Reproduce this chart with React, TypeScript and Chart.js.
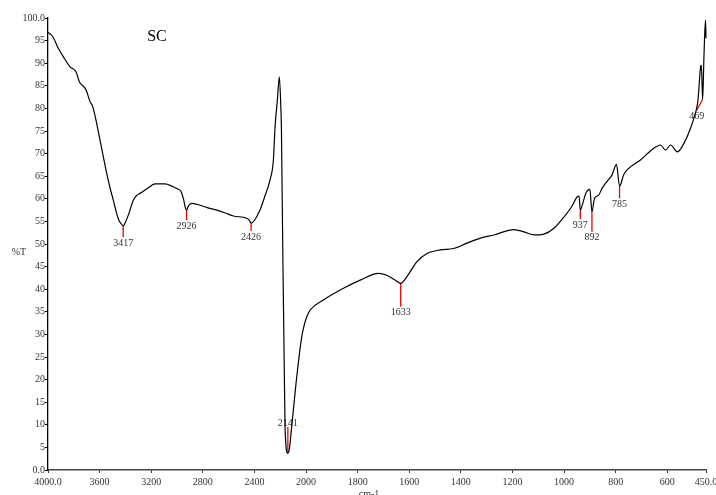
import { useEffect, useRef } from 'react';
import { Chart, registerables } from 'chart.js';

Chart.register(...registerables);

// Spectrum (wavenumber cm-1, %T)
const wavenumbers = [
  4000, 3964, 3920, 3881, 3829, 3783, 3757, 3705, 3674, 3653, 3623, 3597, 3571, 3545, 3520, 3494,
  3470, 3450, 3430, 3417, 3400, 3370, 3339, 3310, 3287, 3230, 3171, 3093, 3040, 3002, 2969, 2950,
  2935, 2926, 2910, 2886, 2847, 2760, 2692, 2620, 2563, 2460, 2440, 2426, 2400, 2357, 2320, 2279,
  2253, 2240, 2222, 2207, 2195, 2191, 2163, 2142, 2130, 2111, 2072, 2033, 2010, 1997, 1984, 1933,
  1855, 1790, 1719, 1687, 1654, 1633, 1609, 1570, 1531, 1480, 1428, 1376, 1324, 1272, 1194, 1155,
  1116, 1078, 1039, 1000, 970, 948, 942, 937, 930, 916, 900, 892, 882, 866, 853, 834, 814, 797,
  785, 769, 756, 704, 652, 626, 607, 587, 561, 529, 510, 497, 488, 481, 471, 468, 463, 458, 452, 450,
];
const transmittance = [
  96.8, 95.9, 93.3, 91.4, 89.2, 88.1, 85.9, 84.1, 81.5, 80.4, 76.7, 73.0, 69.3, 65.6, 62.5, 59.7,
  57.0, 55.2, 54.4, 54.0, 54.8, 57.0, 59.7, 60.8, 61.2, 62.3, 63.3, 63.3, 62.8, 62.3, 61.6, 60.0,
  58.0, 57.5, 58.5, 59.0, 58.8, 58.0, 57.5, 56.8, 56.2, 55.7, 55.3, 54.6, 55.2, 57.5, 60.5, 64.2,
  68.6, 76.0, 81.9, 87.0, 80.0, 76.0, 9.6, 3.7, 4.5, 9.6, 20.6, 29.5, 32.5, 33.9, 35.4, 37.6,
  40.2, 42.0, 43.5, 43.1, 42.0, 41.3, 42.8, 46.1, 47.9, 48.7, 49.0, 50.2, 51.3, 52.0, 53.2, 52.7,
  52.0, 52.2, 53.5, 56.0, 58.3, 60.5, 60.6, 57.5, 58.5, 61.2, 62.1, 57.1, 60.1, 60.8, 62.3, 63.8, 65.3, 67.6,
  62.8, 65.3, 66.4, 68.6, 71.2, 71.9, 70.8, 71.9, 70.4, 73.0, 75.6, 77.8, 79.6, 81.9, 89.2, 89.6, 81.9, 91.4, 99.6, 95.5,
];

// Peak markers
const peakLabels = ['3417', '2926', '2426', '2141', '1633', '937', '892', '785', '469'];
const markerStartWn = [3417, 2926, 2426, 2141, 1633, 937, 892, 785, 464];
const markerStartT = [54.0, 57.5, 54.6, 3.8, 41.4, 57.5, 57.1, 62.8, 81.9];
const markerEndWn = [3417, 2926, 2426, 2141, 1633, 937, 892, 785, 486];
const markerEndT = [51.5, 55.3, 52.9, 9.5, 36.1, 55.5, 52.7, 60.1, 79.6];

// Axis ticks
const xTickValues = [4000, 3600, 3200, 2800, 2400, 2000, 1800, 1600, 1400, 1200, 1000, 800, 600, 450];
const yTickValues = [0, 5, 10, 15, 20, 25, 30, 35, 40, 45, 50, 55, 60, 65, 70, 75, 80, 85, 90, 95, 100];

const sampleTitle = 'SC';
const yTitle = '%T';
const xTitle = 'cm-1';

// FTIR axis: scale halves above 2000 cm-1
const toAxis = (wn: number) => (wn > 2000 ? 2000 + (wn - 2000) / 2 : wn);
const fromAxis = (u: number) => (u > 2000 ? 2000 + (u - 2000) * 2 : u);

const FONT = "'Liberation Serif', 'DejaVu Serif', serif";

export default function App() {
  const ref = useRef<HTMLCanvasElement | null>(null);

  useEffect(() => {
    document.body.style.margin = '0';
    const canvas = ref.current;
    if (!canvas) return;

    const spectrum = wavenumbers.map((wn, i) => ({ x: toAxis(wn), y: transmittance[i] }));
    const markerSets = peakLabels.map((_, i) => ({
      data: [
        { x: toAxis(markerStartWn[i]), y: markerStartT[i] },
        { x: toAxis(markerEndWn[i]), y: markerEndT[i] },
      ],
      borderColor: '#ee0000',
      borderWidth: 1.3,
      pointRadius: 0,
      tension: 0,
      clip: false as any,
    }));

    const textPlugin = {
      id: 'ftirText',
      beforeDatasetsDraw(chart: any) {
        const { ctx, scales } = chart;
        const xs = scales.x;
        const ys = scales.y;
        ctx.save();
        ctx.fillStyle = '#333';
        ctx.font = `10px ${FONT}`;
        ctx.textAlign = 'center';
        peakLabels.forEach((lab, i) => {
          const px = xs.getPixelForValue(toAxis(markerEndWn[i]));
          const py = ys.getPixelForValue(markerEndT[i]);
          const pyStart = ys.getPixelForValue(markerStartT[i]);
          if (py < pyStart && markerEndWn[i] === markerStartWn[i]) {
            ctx.textBaseline = 'bottom';
            ctx.fillText(lab, px, py + 1);
          } else {
            ctx.textBaseline = 'top';
            ctx.fillText(lab, px, py + 1);
          }
        });
        ctx.restore();
      },
      afterDraw(chart: any) {
        const { ctx } = chart;
        ctx.save();
        ctx.fillStyle = '#000';
        ctx.textAlign = 'center';
        ctx.textBaseline = 'middle';
        ctx.font = `16px ${FONT}`;
        ctx.fillText(sampleTitle, 157, 37);
        ctx.fillStyle = '#333';
        ctx.font = `10px ${FONT}`;
        ctx.fillText(yTitle, 19, 252);
        ctx.textBaseline = 'top';
        ctx.fillText(xTitle, 369, 489);
        ctx.restore();
      },
    };

    const chart = new Chart(canvas, {
      type: 'line',
      data: {
        datasets: [
          {
            data: spectrum,
            borderColor: '#000',
            borderWidth: 1.2,
            pointRadius: 0,
            cubicInterpolationMode: 'monotone',
            clip: false as any,
          },
          ...markerSets,
        ],
      },
      options: {
        animation: false,
        responsive: false,
        devicePixelRatio: 1,
        events: [],
        layout: { padding: { top: 18, right: 10, left: 0, bottom: 0 } },
        plugins: { legend: { display: false }, tooltip: { enabled: false } },
        scales: {
          x: {
            type: 'linear',
            reverse: true,
            min: 450,
            max: 3000,
            afterBuildTicks: (scale: any) => {
              scale.ticks = xTickValues.map((v) => ({ value: toAxis(v) }));
            },
            afterFit: (scale: any) => {
              scale.height = 25;
              scale.paddingLeft = 0;
              scale.paddingRight = 0;
            },
            ticks: {
              autoSkip: false,
              maxRotation: 0,
              padding: 3,
              color: '#333',
              font: { family: FONT, size: 10 },
              callback: (v: any) => {
                const wn = Math.round(fromAxis(Number(v)));
                return wn === 4000 || wn === 450 ? wn.toFixed(1) : String(wn);
              },
            },
            grid: {
              display: true,
              drawOnChartArea: false,
              drawTicks: true,
              tickLength: 3,
              color: '#333',
            },
            border: { display: true, color: '#444', width: 1.5 },
          },
          y: {
            type: 'linear',
            min: 0,
            max: 100,
            afterBuildTicks: (scale: any) => {
              scale.ticks = yTickValues.map((v) => ({ value: v }));
            },
            afterFit: (scale: any) => {
              scale.width = 48;
              scale.paddingTop = 0;
              scale.paddingBottom = 0;
            },
            ticks: {
              autoSkip: false,
              padding: 0,
              color: '#333',
              font: { family: FONT, size: 10 },
              callback: (v: any) => {
                const n = Number(v);
                return n === 0 || n === 100 ? n.toFixed(1) : String(n);
              },
            },
            grid: {
              display: true,
              drawOnChartArea: false,
              drawTicks: true,
              tickLength: 3,
              color: '#000',
            },
            border: { display: true, color: '#000', width: 1.3 },
          },
        },
      },
      plugins: [textPlugin],
    });

    return () => chart.destroy();
  }, []);

  return (
    <div style={{ width: 716, height: 495, background: '#fff' }}>
      <canvas ref={ref} width={716} height={495} style={{ display: 'block' }} />
    </div>
  );
}
